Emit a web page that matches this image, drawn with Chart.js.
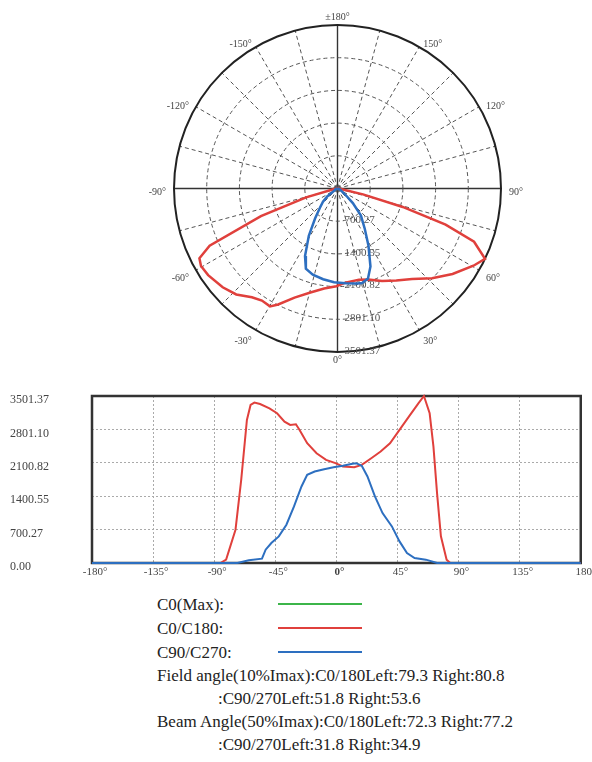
<!DOCTYPE html>
<html>
<head>
<meta charset="utf-8">
<script src="https://cdn.jsdelivr.net/npm/chart.js@4.4.1/dist/chart.umd.min.js"></script>
<style>
body { margin: 0; background: #fff; width: 592px; height: 762px; overflow: hidden; position: relative; font-family: "Liberation Serif", serif; color: #222; }
canvas { position: absolute; }
#polar { left: 130px; top: 0px; }
#linear { left: 0px; top: 380px; }
.txt { position: absolute; font-size: 17px; white-space: nowrap; line-height: 20px; }
.key { position: absolute; left: 278px; width: 84px; height: 2px; }
</style>
</head>
<body>
<canvas id="polar" width="420" height="380"></canvas>
<canvas id="linear" width="592" height="210"></canvas>

<div class="txt" style="left:157px;top:595px">C0(Max):</div>
<div class="txt" style="left:157px;top:619px">C0/C180:</div>
<div class="txt" style="left:157px;top:643px">C90/C270:</div>
<div class="key" style="top:603px;background:#3cb54a"></div>
<div class="key" style="top:627px;background:#e0403c"></div>
<div class="key" style="top:651px;background:#2d6fc0"></div>
<div class="txt" style="left:157px;top:666px">Field angle(10%Imax):C0/180Left:79.3 Right:80.8</div>
<div class="txt" style="left:218px;top:689px">:C90/270Left:51.8 Right:53.6</div>
<div class="txt" style="left:157px;top:712px">Beam Angle(50%Imax):C0/180Left:72.3 Right:77.2</div>
<div class="txt" style="left:218px;top:735px">:C90/270Left:31.8 Right:34.9</div>

<script>
// C0/C180 curve (negative angles = C180 side)
const c0Angles = [-180, -85.4, -81.2, -74.3, -70.1, -65.9, -63.2, -60.4, -56.2, -49.3, -43.7, -38.2, -34.0, -29.8, -27.1, -21.5, -14.6, -7.6, -0.7, 4.8, 13.2, 18.7, 25.7, 32.6, 39.5, 46.5, 53.4, 60.4, 64.5, 68.7, 71.5, 74.2, 77.0, 81.2, 83.9, 180];
const c0Values = [0, 0, 70, 698, 1744, 3000, 3313, 3362, 3334, 3243, 3139, 2964, 2895, 2909, 2790, 2511, 2302, 2162, 2093, 2023, 2009, 2058, 2197, 2337, 2511, 2790, 3069, 3348, 3501, 3139, 2441, 1450, 560, 70, 0, 0];

// C90/C270 curve
const c90Angles = [-180, -72.9, -64.5, -54.8, -52.1, -47.9, -42.4, -36.8, -31.2, -25.7, -21.5, -16.0, -9.0, -2.1, 4.8, 11.8, 14.6, 18.7, 22.9, 28.4, 34.0, 40.9, 46.5, 52.0, 57.6, 65.9, 74.2, 180];
const c90Values = [0, 0, 56, 91, 279, 419, 558, 802, 1186, 1604, 1848, 1918, 1967, 2009, 2037, 2079, 2093, 2037, 1814, 1395, 1046, 767, 453, 209, 105, 70, 0, 0];

// intensity ticks (cd)
const valueTicks = [0, 700.27, 1400.55, 2100.82, 2801.10, 3501.37];
const maxValue = 3501.37;

// linear chart angle ticks
const angleTicks = [-180, -135, -90, -45, 0, 45, 90, 135, 180];
const angleTickLabels = ['-180°', '-135°', '-90°', '-45°', '0°', '45°', '90°', '135°', '180'];

// polar chart angle labels
const polarAngles = [180, 150, 120, 90, 60, 30, 0, -30, -60, -90, -120, -150];
const polarAngleLabels = ['±180°', '150°', '120°', '90°', '60°', '30°', '0°', '-30°', '-60°', '-90°', '-120°', '-150°'];
const spokeStep = 15;

const red = '#e0403c';
const blue = '#2d6fc0';
const serif = '"Liberation Serif", "Times New Roman", serif';

function toPolar(angles, values) {
    return angles.map((a, i) => {
        const rad = a * Math.PI / 180;
        return { x: values[i] * Math.sin(rad), y: -values[i] * Math.cos(rad) };
    });
}

// Draws the round grid, the spokes and all labels of the polar plot
const polarGrid = {
    id: 'polarGrid',
    beforeDatasetsDraw(chart) {
        const ctx = chart.ctx;
        const xs = chart.scales.x, ys = chart.scales.y;
        const cx = xs.getPixelForValue(0), cy = ys.getPixelForValue(0);
        const outer = xs.getPixelForValue(maxValue) - cx;
        ctx.save();

        // spokes
        for (let a = -180; a < 180; a += spokeStep) {
            const rad = a * Math.PI / 180;
            const solid = a % 90 === 0;
            ctx.beginPath();
            ctx.setLineDash(solid ? [] : [4, 3]);
            ctx.strokeStyle = solid ? '#333' : '#555';
            ctx.lineWidth = solid ? 1.4 : 1;
            ctx.moveTo(cx, cy);
            ctx.lineTo(xs.getPixelForValue(maxValue * Math.sin(rad)), ys.getPixelForValue(-maxValue * Math.cos(rad)));
            ctx.stroke();
        }

        // rings
        valueTicks.slice(1).forEach((v, i, arr) => {
            const r = xs.getPixelForValue(v) - cx;
            const last = i === arr.length - 1;
            ctx.beginPath();
            ctx.setLineDash(last ? [] : [4, 3]);
            ctx.strokeStyle = last ? '#222' : '#555';
            ctx.lineWidth = last ? 2 : 1;
            ctx.arc(cx, cy, r, 0, Math.PI * 2);
            ctx.stroke();
        });
        ctx.setLineDash([]);

        // angle labels
        ctx.font = '10px ' + serif;
        ctx.fillStyle = '#444';
        ctx.textBaseline = 'middle';
        polarAngles.forEach((a, i) => {
            const rad = a * Math.PI / 180;
            const s = Math.sin(rad), c = Math.cos(rad);
            const R = outer + 8;
            let x = cx + R * s, y = cy + R * c;
            if (Math.abs(s) < 0.01) ctx.textAlign = 'center';
            else { ctx.textAlign = s > 0 ? 'left' : 'right'; y += 4; }
            ctx.fillText(polarAngleLabels[i], x, y);
        });

        // ring labels
        ctx.font = '11px ' + serif;
        ctx.fillStyle = '#555';
        ctx.textAlign = 'left';
        valueTicks.slice(1).forEach(v => {
            ctx.fillText(v.toFixed(2), cx + 7, ys.getPixelForValue(-v) - 1);
        });
        ctx.restore();
    }
};

new Chart(document.getElementById('polar'), {
    type: 'scatter',
    data: {
        datasets: [
            { data: toPolar(c90Angles, c90Values), borderColor: blue, borderWidth: 2.5, showLine: true, pointRadius: 0, clip: false },
            { data: toPolar(c0Angles, c0Values), borderColor: red, borderWidth: 2.5, showLine: true, pointRadius: 0, clip: false }
        ]
    },
    options: {
        responsive: false,
        animation: false,
        events: [],
        layout: { padding: { left: 44, right: 49, top: 25, bottom: 28 } },
        plugins: { legend: { display: false }, tooltip: { enabled: false } },
        scales: {
            x: { type: 'linear', display: false, min: -maxValue, max: maxValue },
            y: { type: 'linear', display: false, min: -maxValue, max: maxValue }
        }
    },
    plugins: [polarGrid]
});

// Frame round the linear plot
const frame = {
    id: 'frame',
    beforeDatasetsDraw(chart) {
        const { ctx, chartArea: a } = chart;
        ctx.save();
        ctx.strokeStyle = '#333';
        ctx.lineWidth = 2.5;
        ctx.strokeRect(a.left, a.top, a.right - a.left, a.bottom - a.top);
        ctx.restore();
    }
};

new Chart(document.getElementById('linear'), {
    type: 'scatter',
    data: {
        // first dataset is drawn on top, so blue comes first
        datasets: [
            { data: c90Angles.map((a, i) => ({ x: a, y: c90Values[i] })), borderColor: blue, borderWidth: 2, showLine: true, pointRadius: 0, clip: false },
            { data: c0Angles.map((a, i) => ({ x: a, y: c0Values[i] })), borderColor: red, borderWidth: 2, showLine: true, pointRadius: 0, clip: false }
        ]
    },
    options: {
        responsive: false,
        animation: false,
        events: [],
        layout: { padding: { left: 10, right: 9, top: 16, bottom: 0 } },
        plugins: { legend: { display: false }, tooltip: { enabled: false } },
        scales: {
            x: {
                type: 'linear', min: -180, max: 180,
                afterBuildTicks: s => { s.ticks = angleTicks.map(v => ({ value: v })); },
                afterFit: s => { s.height = 27; },
                grid: { color: '#aaa', drawTicks: false },
                border: { display: false, dash: [2, 2] },
                ticks: {
                    autoSkip: false, maxRotation: 0, padding: 3, labelOffset: 3,
                    color: '#444',
                    font: ctx => ({ family: serif, size: 11, weight: ctx.tick && ctx.tick.value === 0 ? 'bold' : 'normal' }),
                    callback: v => angleTickLabels[angleTicks.indexOf(v)]
                }
            },
            y: {
                type: 'linear', min: 0, max: maxValue,
                afterBuildTicks: s => { s.ticks = valueTicks.map(v => ({ value: v })); },
                afterFit: s => { s.width = 82; },
                grid: { color: '#aaa', drawTicks: false },
                border: { display: false, dash: [2, 2] },
                ticks: {
                    autoSkip: false, crossAlign: 'far', labelOffset: 4,
                    color: '#444', font: { family: serif, size: 12 },
                    callback: v => v.toFixed(2)
                }
            }
        }
    },
    plugins: [frame]
});
</script>
</body>
</html>
